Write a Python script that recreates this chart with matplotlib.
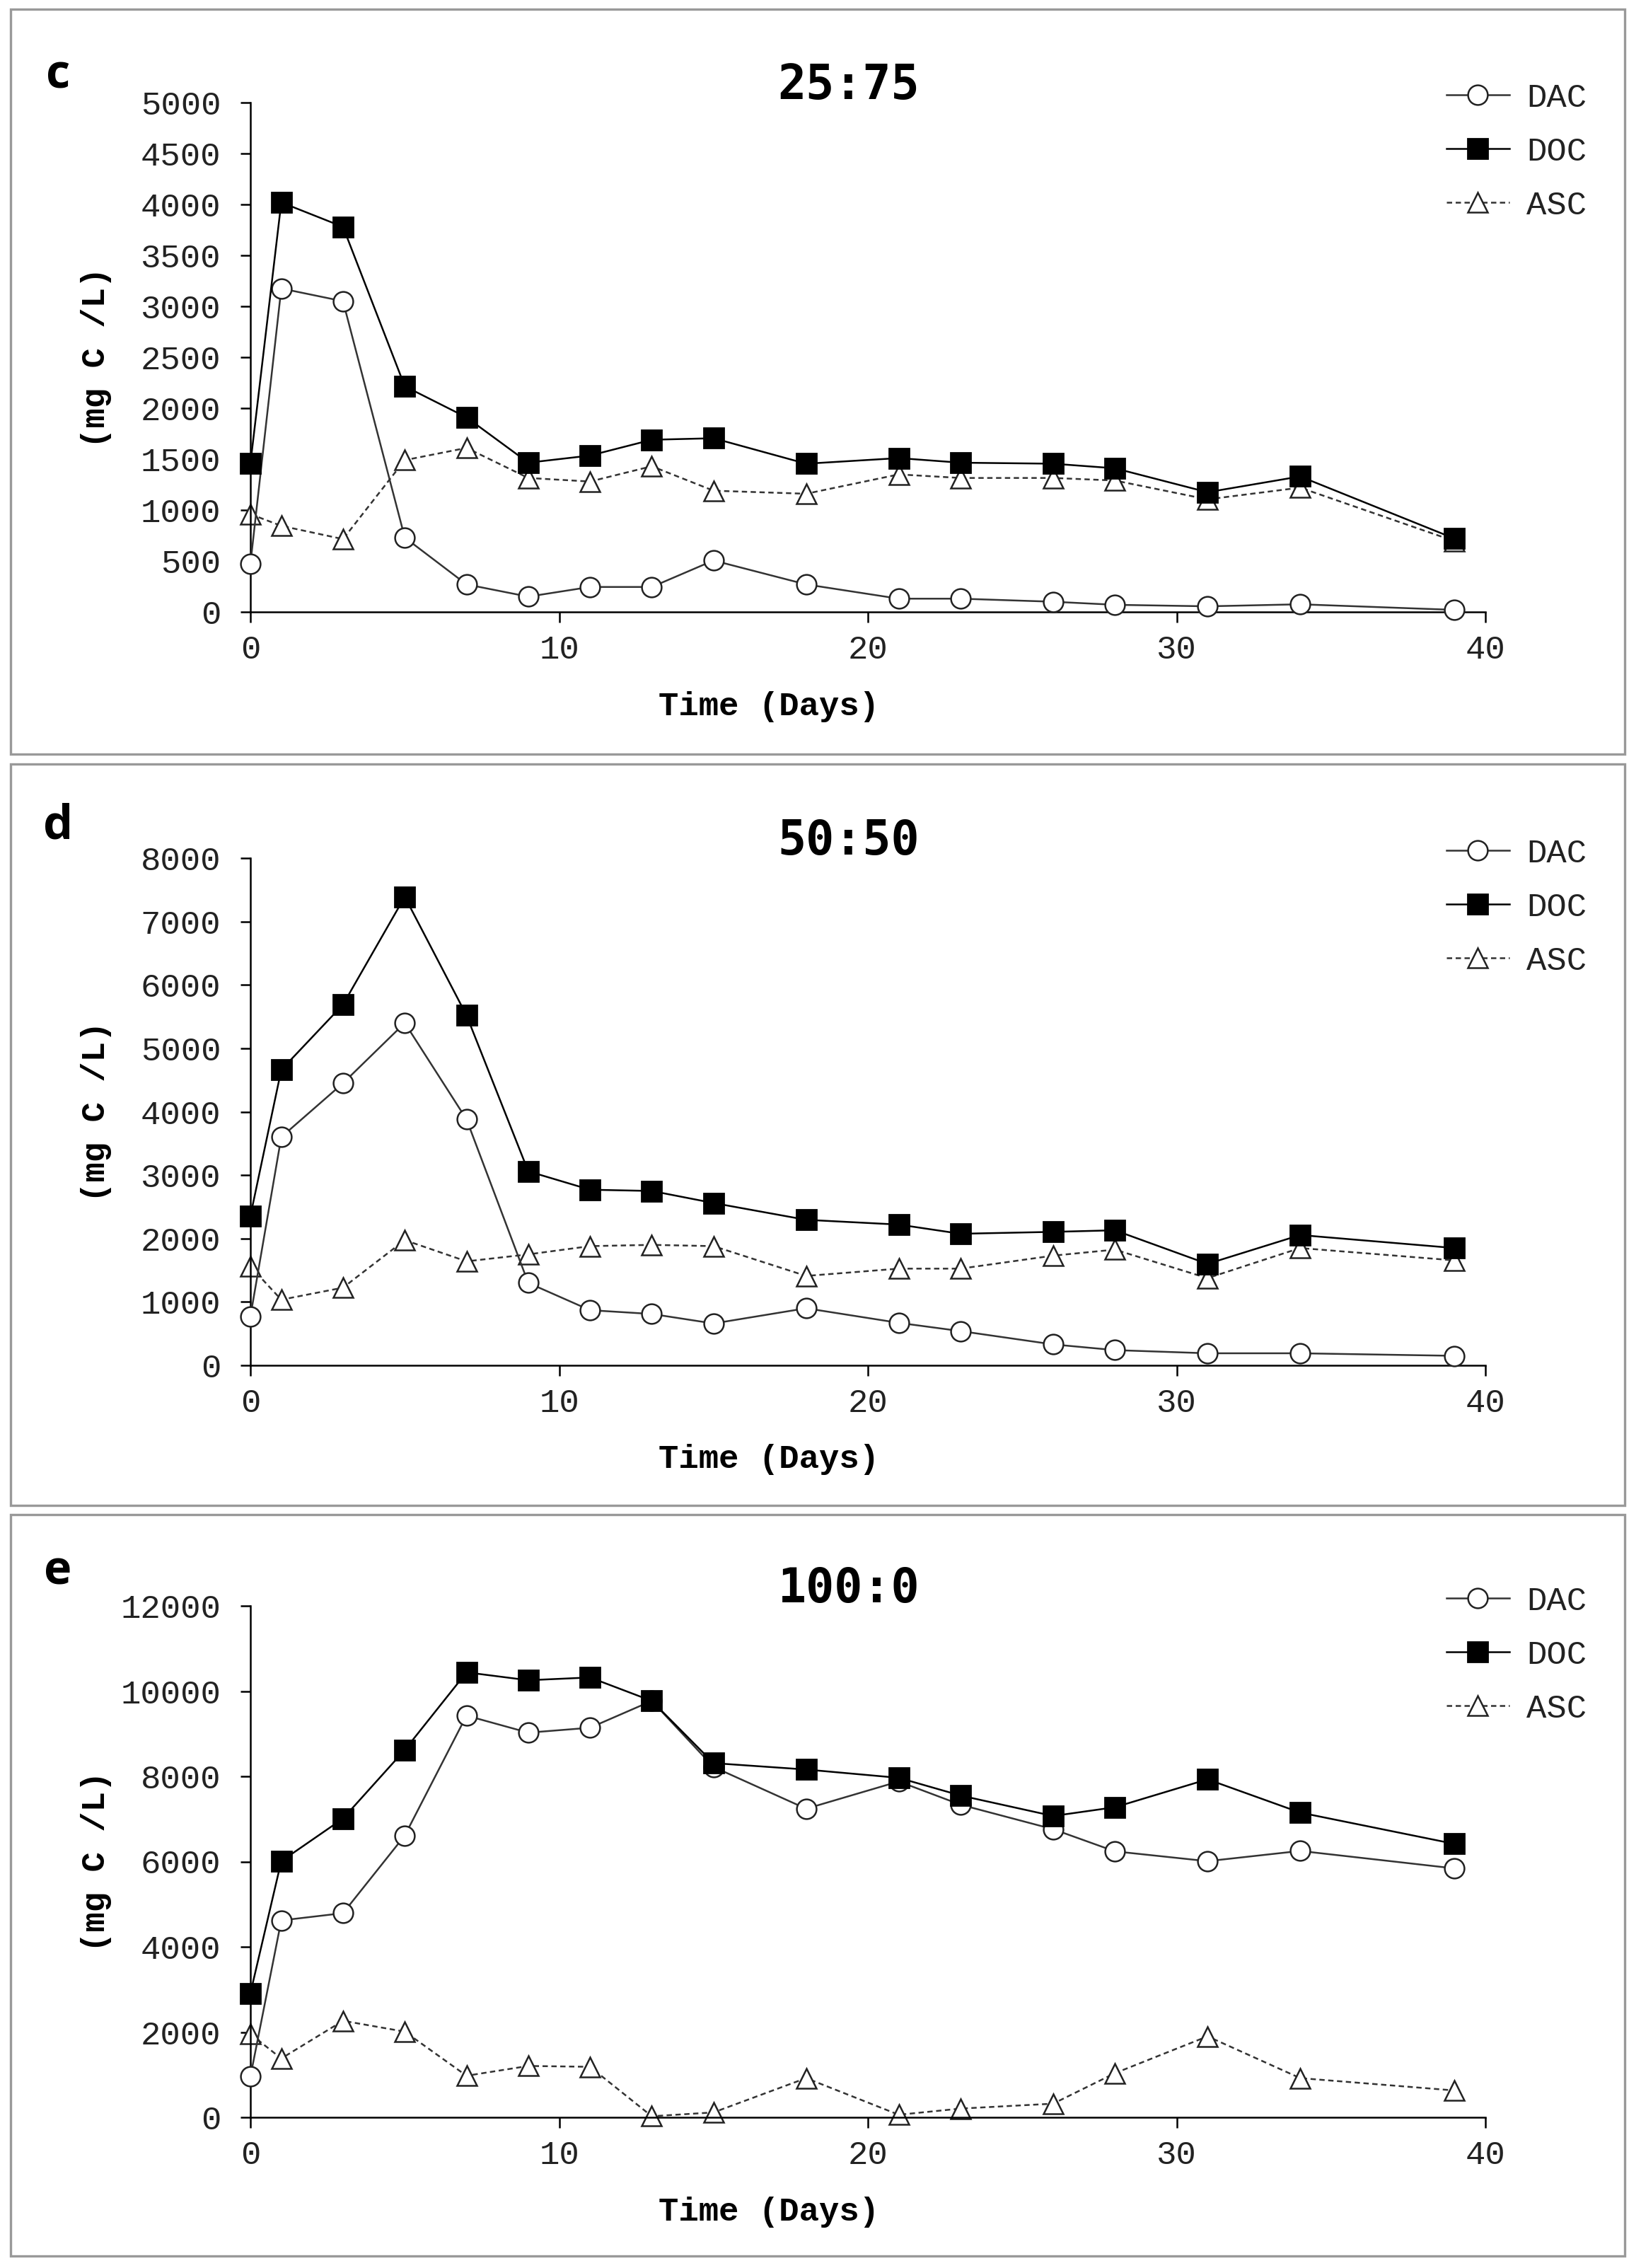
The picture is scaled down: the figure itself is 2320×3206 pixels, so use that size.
import matplotlib
matplotlib.use("Agg")
import matplotlib.pyplot as plt
from matplotlib.patches import Rectangle

days = [0, 1, 3, 5, 7, 9, 11, 13, 15, 18, 21, 23, 26, 28, 31, 34, 39]

# panel c (25:75)
c_dac = [470, 3175, 3050, 730, 270, 150, 245, 245, 505, 270, 130, 130, 100, 70, 55, 75, 20]
c_doc = [1455, 4020, 3780, 2215, 1910, 1465, 1535, 1690, 1705, 1455, 1510, 1465, 1455, 1410, 1175, 1330, 720]
c_asc = [960, 845, 715, 1490, 1610, 1315, 1280, 1430, 1190, 1160, 1350, 1315, 1315, 1290, 1105, 1220, 695]

# panel d (50:50)
d_dac = [770, 3600, 4450, 5400, 3880, 1300, 870, 810, 660, 900, 670, 540, 330, 240, 190, 190, 150]
d_doc = [2355, 4660, 5690, 7390, 5520, 3060, 2770, 2750, 2560, 2295, 2220, 2075, 2105, 2130, 1600, 2055, 1850]
d_asc = [1560, 1035, 1225, 1975, 1640, 1750, 1880, 1900, 1880, 1410, 1525, 1525, 1730, 1825, 1375, 1850, 1655]

# panel e (100:0)
e_dac = [955, 4620, 4790, 6610, 9425, 9025, 9140, 9770, 8220, 7240, 7880, 7335, 6760, 6240, 6010, 6250, 5840]
e_doc = [2910, 6010, 7010, 8620, 10440, 10255, 10320, 9770, 8310, 8160, 7965, 7550, 7070, 7275, 7930, 7150, 6415]
e_asc = [1955, 1380, 2265, 2010, 975, 1205, 1185, 25, 115, 920, 60, 205, 320, 1035, 1900, 920, 630]

letters = ["c", "d", "e"]
titles = ["25:75", "50:50", "100:0"]
ymaxes = [5000, 8000, 12000]
ysteps = [500, 1000, 2000]
series = [(c_dac, c_doc, c_asc), (d_dac, d_doc, d_asc), (e_dac, e_doc, e_asc)]

W, H = 2320, 3206
DPI = 200
fig = plt.figure(figsize=(W / DPI, H / DPI), dpi=DPI)

mono = "Liberation Mono"

# pixel layout (top, bottom of axes; box top, box bottom; letter y)
ax_tb = [(145, 865), (1213, 1930), (2270, 2993)]
box_tb = [(13, 1066), (1080, 2128), (2141, 3189)]
letter_y = [107, 1168, 2222]
left_px, right_px = 354, 2100

for i in range(3):
    top, bot = ax_tb[i]
    ax = fig.add_axes([left_px / W, 1 - bot / H, (right_px - left_px) / W, (bot - top) / H])

    # frame around panel
    bt, bb = box_tb[i]
    fig.patches.append(Rectangle((15 / W, 1 - bb / H), (2297 - 15) / W, (bb - bt) / H,
                                 transform=fig.transFigure, fill=False,
                                 edgecolor="#999999", linewidth=1.2))

    dac, doc, asc = series[i]
    ax.plot(days, dac, color="#333333", lw=0.9, marker="o", ms=10, mfc="white",
            mec="#222222", mew=0.9, label="DAC", clip_on=False, zorder=3)
    ax.plot(days, doc, color="black", lw=0.9, marker="s", ms=10, mfc="black",
            mec="black", label="DOC", clip_on=False, zorder=4)
    ax.plot(days, asc, color="#333333", lw=0.9, ls=(0, (3, 2)), marker="^", ms=10,
            mfc="white", mec="#222222", mew=0.9, label="ASC", clip_on=False, zorder=2)

    ax.set_xlim(0, 40)
    ax.set_ylim(0, ymaxes[i])
    ax.set_xticks([0, 10, 20, 30, 40])
    ax.set_yticks(range(0, ymaxes[i] + 1, ysteps[i]))
    for s in ["top", "right"]:
        ax.spines[s].set_visible(False)
    for s in ["left", "bottom"]:
        ax.spines[s].set_linewidth(0.9)
    ax.tick_params(axis="x", direction="out", length=5.5, width=0.9, pad=6, labelsize=17)
    ax.tick_params(axis="y", direction="out", length=5, width=0.9, pad=10, labelsize=17)
    for lab in ax.get_xticklabels() + ax.get_yticklabels():
        lab.set_fontfamily(mono)
        lab.set_color("#222222")

    ax.set_xlabel("Time (Days)", family=mono, weight="bold", fontsize=17)
    ax.xaxis.set_label_coords(0.42, -0.155)
    ax.set_ylabel("(mg C /L)", family=mono, weight="bold", fontsize=17)
    ax.yaxis.set_label_coords(-0.112, 0.5)

    # title and panel letter
    fig.text(1200 / W, 1 - (top - 24) / H, titles[i], family="DejaVu Sans Mono",
             weight="bold", fontsize=24, ha="center", va="center")
    fig.text(82 / W, 1 - letter_y[i] / H, letters[i], family="Open Sans",
             weight="bold", fontsize=24, ha="center", va="center")

    leg = ax.legend(loc="upper left", bbox_to_anchor=(2021 / W, 1 - (top - 52) / H),
                    bbox_transform=fig.transFigure, frameon=False, borderpad=0,
                    handlelength=1.9, handletextpad=0.5, labelspacing=0.68,
                    prop={"family": mono, "size": 17})
    for t in leg.get_texts():
        t.set_color("#222222")

fig.savefig("out.png", dpi=DPI)
